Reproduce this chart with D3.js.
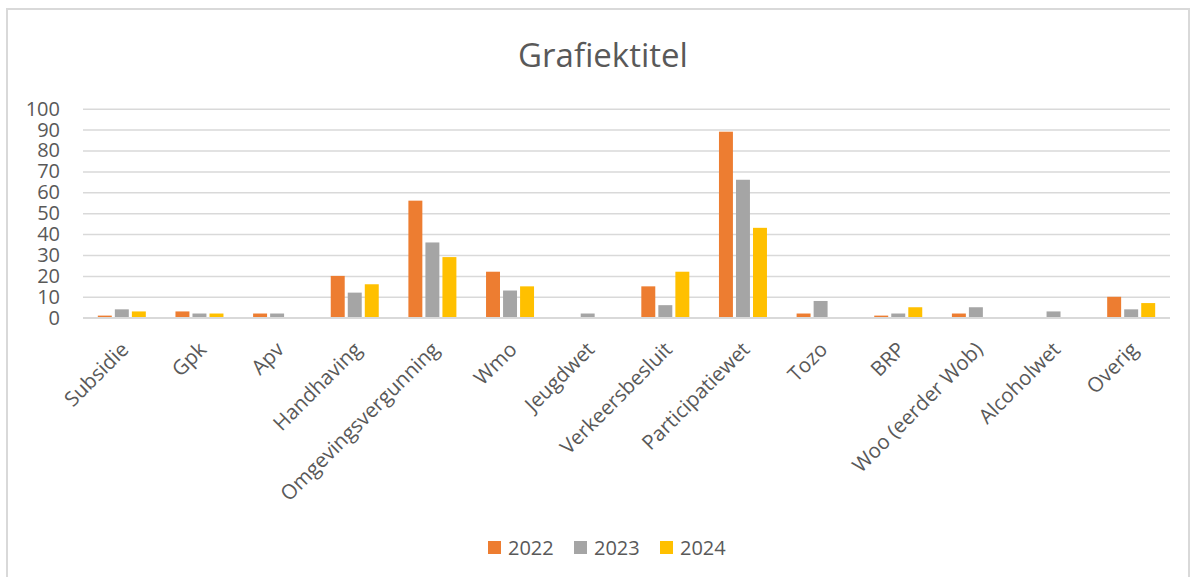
<!DOCTYPE html>
<html>
<head>
<meta charset="utf-8">
<script src="https://cdn.jsdelivr.net/npm/d3@7"></script>
<style>
  html, body { margin: 0; padding: 0; background: #fff; }
  svg { display: block; font-family: "Open Sans", sans-serif; }
</style>
</head>
<body>
<div id="chart"></div>
<script>
// data
const categories = ["Subsidie", "Gpk", "Apv", "Handhaving", "Omgevingsvergunning", "Wmo", "Jeugdwet",
    "Verkeersbesluit", "Participatiewet", "Tozo", "BRP", "Woo (eerder Wob)", "Alcoholwet", "Overig"];
const years = ["2022", "2023", "2024"];
const values2022 = [1, 3, 2, 20, 56, 22, 0, 15, 89, 2, 1, 2, 0, 10];
const values2023 = [4, 2, 2, 12, 36, 13, 2, 6, 66, 8, 2, 5, 3, 4];
const values2024 = [3, 2, 0, 16, 29, 15, 0, 22, 43, 0, 5, 0, 0, 7];
const yTicks = [0, 10, 20, 30, 40, 50, 60, 70, 80, 90, 100];
const colors = ["#ED7D31", "#A5A5A5", "#FFC000"];

const series = [values2022, values2023, values2024];
const textColor = "#595959";
const gridColor = "#D9D9D9";

const width = 1192, height = 577;
const plot = {left: 83, right: 1170, top: 108.7, bottom: 317.7};

const svg = d3.select("#chart").append("svg")
    .attr("width", width)
    .attr("height", height);

// chart frame
svg.append("rect")
    .attr("x", 7).attr("y", 9)
    .attr("width", 1182).attr("height", 620)
    .attr("fill", "#fff")
    .attr("stroke", gridColor)
    .attr("stroke-width", 2);

svg.append("text")
    .attr("x", 603).attr("y", 67)
    .attr("text-anchor", "middle")
    .attr("font-size", 33)
    .attr("fill", textColor)
    .text("Grafiektitel");

const x0 = d3.scaleBand().domain(categories).range([plot.left, plot.right]).padding(0);
const groupWidth = 48;
const x1 = d3.scaleBand().domain(years).range([0, groupWidth]).paddingInner(0.18).paddingOuter(0);
const y = d3.scaleLinear().domain([0, 100]).range([plot.bottom, plot.top]);

// gridlines + y labels
const yAxis = svg.append("g")
    .attr("transform", `translate(${plot.left},0)`)
    .call(d3.axisLeft(y).tickValues(yTicks).tickSize(-(plot.right - plot.left)).tickPadding(23));
yAxis.select(".domain").remove();
yAxis.selectAll(".tick line").attr("stroke", gridColor).attr("stroke-width", 1.5);
yAxis.selectAll(".tick text")
    .attr("fill", textColor)
    .attr("font-size", 20)
    .attr("font-family", "Open Sans, sans-serif");

// bars
const groups = svg.append("g").selectAll("g")
    .data(categories)
    .join("g")
    .attr("transform", d => `translate(${x0(d) + (x0.bandwidth() - groupWidth) / 2},0)`);

groups.selectAll("rect")
    .data((d, i) => years.map((yr, s) => ({year: yr, s: s, value: series[s][i]})))
    .join("rect")
    .filter(d => d.value > 0)
    .attr("x", d => x1(d.year))
    .attr("y", d => y(d.value))
    .attr("width", x1.bandwidth())
    .attr("height", d => y(0) - y(d.value))
    .attr("fill", d => colors[d.s]);

// x axis line
svg.append("line")
    .attr("x1", plot.left).attr("x2", plot.right)
    .attr("y1", y(0)).attr("y2", y(0))
    .attr("stroke", gridColor)
    .attr("stroke-width", 1.5);

// rotated category labels
svg.append("g").selectAll("text")
    .data(categories)
    .join("text")
    .attr("transform", d => `translate(${x0(d) + x0.bandwidth() / 2 + 3},${plot.bottom + 28}) rotate(-45)`)
    .attr("text-anchor", "end")
    .attr("dy", "0.35em")
    .attr("font-size", 20.5)
    .attr("fill", textColor)
    .text(d => d);

// legend
const legendX = d3.scalePoint().domain(years).range([488, 660]);
const legend = svg.append("g").selectAll("g")
    .data(years)
    .join("g")
    .attr("transform", d => `translate(${legendX(d)},541)`);
legend.append("rect")
    .attr("width", 13).attr("height", 13)
    .attr("fill", (d, i) => colors[i]);
legend.append("text")
    .attr("x", 20).attr("y", 14)
    .attr("font-size", 20)
    .attr("fill", textColor)
    .text(d => d);
</script>
</body>
</html>
